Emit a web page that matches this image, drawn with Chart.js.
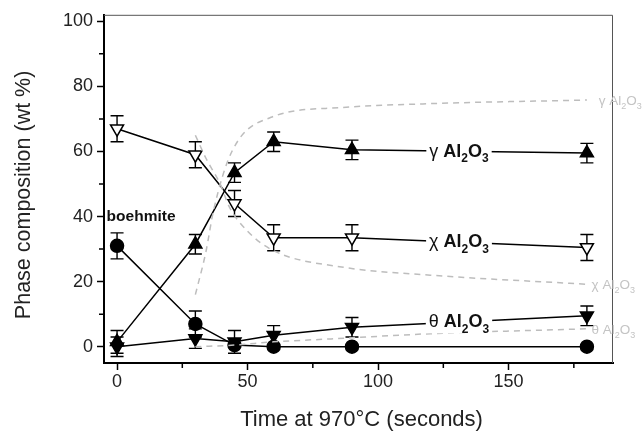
<!DOCTYPE html>
<html>
<head>
<meta charset="utf-8">
<script src="https://cdn.jsdelivr.net/npm/chart.js@4.4.0/dist/chart.umd.min.js"></script>
<style>
html, body { margin: 0; padding: 0; background: #fff; }
</style>
</head>
<body>
<canvas id="chart" width="642" height="433"></canvas>
<script>
// measured phases (wt %)
const times = [0, 30, 45, 60, 90, 180];
const gammaVals = [1.5, 31.5, 53.5, 63, 60.5, 59.5];
const gammaErr = [3.5, 3, 3, 3, 3, 3];
const chiVals = [67, 59, 44, 33.5, 33.5, 30.5];
const chiErr = [4, 4, 4, 4, 4, 4];
const thetaVals = [0, 2.5, 1.5, 3.5, 6, 9.5];
const thetaErr = [3, 3, 3.5, 3, 3, 3];
const boehmiteVals = [31, 7, 0.5, 0, 0, 0];
const boehmiteErr = [4, 4, 0, 0, 0, 0];

// model curves (gray dashed)
const gammaModelX = [30, 34, 37, 44, 59, 86, 120, 180];
const gammaModelY = [16, 29, 42, 60, 70.5, 73.5, 74.7, 75.8];
const chiModelX = [30, 34, 39.5, 43, 50, 60, 86, 120, 180];
const chiModelY = [65, 58, 50, 43, 35.5, 29.5, 24.5, 22, 19.2];
const thetaModelX = [30, 45, 60, 82, 120, 180];
const thetaModelY = [0, 0.5, 1.5, 2.4, 4, 5.5];

// ticks
const xTicks = [0, 50, 100, 150];
const xMinorTicks = [25, 75, 125, 175];
const yTicks = [0, 20, 40, 60, 80, 100];
const yMinorTicks = [10, 30, 50, 70, 90];

const FONT = "'Liberation Sans', Arial, Helvetica, sans-serif";
const GRAY = '#bdbdbd';

const pts = (xs, ys) => xs.map((x, i) => ({ x: x, y: ys[i] }));

function markerSet(vals, style, rot, fill) {
    return {
        data: pts(times, vals),
        borderColor: '#000',
        borderWidth: 1.5,
        backgroundColor: fill,
        pointStyle: style,
        rotation: rot,
        pointRadius: style === 'circle' ? 6.5 : 7.5,
        pointBorderWidth: 1.5,
        pointBackgroundColor: fill,
        pointBorderColor: '#000',
        tension: 0,
        fill: false
    };
}

function modelSet(xs, ys) {
    return {
        data: pts(xs, ys),
        borderColor: GRAY,
        borderWidth: 1.5,
        borderDash: [6, 5],
        pointRadius: 0,
        cubicInterpolationMode: 'monotone',
        fill: false
    };
}

const errorSets = [
    { vals: gammaVals, err: gammaErr },
    { vals: chiVals, err: chiErr },
    { vals: thetaVals, err: thetaErr },
    { vals: boehmiteVals, err: boehmiteErr }
];

// annotation text (data coordinates)
const lineLabels = [
    { greek: 'γ', x: 131, y: 60.3 },
    { greek: 'χ', x: 131, y: 32.5 },
    { greek: 'θ', x: 131, y: 8 }
];
const modelLabels = [
    { greek: 'γ', x: 184.5, y: 75.8 },
    { greek: 'χ', x: 181.8, y: 19.3 },
    { greek: 'θ', x: 181.8, y: 5.5 }
];

// draws "g Al2O3" with subscripts
function drawFormula(ctx, greek, px, py, size, color, bold, centered, bg) {
    const w = bold ? 'bold ' : '';
    const sub = Math.round(size * 0.65);
    const parts = [
        { t: greek + ' ', f: size + 'px ' + FONT, dy: 0 },
        { t: 'Al', f: w + size + 'px ' + FONT, dy: 0 },
        { t: '2', f: w + sub + 'px ' + FONT, dy: size * 0.3 },
        { t: 'O', f: w + size + 'px ' + FONT, dy: 0 },
        { t: '3', f: w + sub + 'px ' + FONT, dy: size * 0.3 }
    ];
    let total = 0;
    parts.forEach(p => { ctx.font = p.f; p.w = ctx.measureText(p.t).width; total += p.w; });
    let x = centered ? px - total / 2 : px;
    const base = py + size * 0.36;
    if (bg) {
        ctx.fillStyle = '#fff';
        ctx.fillRect(x - 3, py - size * 0.6, total + 6, size * 1.3);
    }
    ctx.fillStyle = color;
    ctx.textBaseline = 'alphabetic';
    ctx.textAlign = 'left';
    parts.forEach(p => {
        ctx.font = p.f;
        ctx.fillText(p.t, x, base + p.dy);
        x += p.w;
    });
}

const extras = {
    id: 'extras',
    beforeDatasetsDraw(chart) {
        const { ctx, chartArea: a, scales: { x, y } } = chart;
        ctx.save();
        // thin frame top / right
        ctx.strokeStyle = '#555';
        ctx.lineWidth = 1;
        ctx.beginPath();
        ctx.moveTo(a.left, a.top + 0.5);
        ctx.lineTo(a.right - 0.5, a.top + 0.5);
        ctx.lineTo(a.right - 0.5, a.bottom);
        ctx.stroke();
        // minor ticks
        ctx.strokeStyle = '#000';
        ctx.lineWidth = 1.5;
        ctx.beginPath();
        xMinorTicks.forEach(v => {
            const px = x.getPixelForValue(v);
            ctx.moveTo(px, a.bottom);
            ctx.lineTo(px, a.bottom + 5);
        });
        yMinorTicks.forEach(v => {
            const py = y.getPixelForValue(v);
            ctx.moveTo(a.left, py);
            ctx.lineTo(a.left - 5, py);
        });
        ctx.stroke();
        // error bars
        ctx.lineWidth = 1.4;
        ctx.beginPath();
        errorSets.forEach(s => {
            s.vals.forEach((v, i) => {
                const e = s.err[i];
                if (!e) return;
                const px = x.getPixelForValue(times[i]);
                const t = y.getPixelForValue(v + e);
                const b = y.getPixelForValue(v - e);
                ctx.moveTo(px, t); ctx.lineTo(px, b);
                ctx.moveTo(px - 6.5, t); ctx.lineTo(px + 6.5, t);
                ctx.moveTo(px - 6.5, b); ctx.lineTo(px + 6.5, b);
            });
        });
        ctx.stroke();
        ctx.restore();
    },
    afterDatasetsDraw(chart) {
        const { ctx, scales: { x, y } } = chart;
        ctx.save();
        lineLabels.forEach(l => {
            drawFormula(ctx, l.greek, x.getPixelForValue(l.x), y.getPixelForValue(l.y), 18, '#111', true, true, true);
        });
        modelLabels.forEach(l => {
            drawFormula(ctx, l.greek, x.getPixelForValue(l.x), y.getPixelForValue(l.y), 13.5, '#c4c4c4', false, false, false);
        });
        ctx.font = 'bold 15.5px ' + FONT;
        ctx.fillStyle = '#111';
        ctx.textAlign = 'left';
        ctx.textBaseline = 'middle';
        ctx.fillText('boehmite', x.getPixelForValue(-4), y.getPixelForValue(40));
        ctx.restore();
    }
};

new Chart(document.getElementById('chart'), {
    type: 'line',
    data: {
        datasets: [
            modelSet(gammaModelX, gammaModelY),
            modelSet(chiModelX, chiModelY),
            modelSet(thetaModelX, thetaModelY),
            markerSet(gammaVals, 'triangle', 0, '#000'),
            markerSet(chiVals, 'triangle', 180, '#fff'),
            markerSet(thetaVals, 'triangle', 180, '#000'),
            markerSet(boehmiteVals, 'circle', 0, '#000')
        ]
    },
    options: {
        responsive: false,
        animation: false,
        layout: { padding: { top: 12, right: 29, left: 0, bottom: 0 } },
        plugins: { legend: { display: false }, tooltip: { enabled: false } },
        scales: {
            x: {
                type: 'linear',
                min: -5,
                max: 190,
                afterBuildTicks: axis => { axis.ticks = xTicks.map(v => ({ value: v })); },
                afterFit: axis => { axis.height = 70; },
                grid: { drawOnChartArea: false, tickLength: 7, tickWidth: 1.5, tickColor: '#000' },
                border: { color: '#000', width: 2 },
                ticks: { color: '#222', padding: 1, font: { family: FONT, size: 18 } },
                title: {
                    display: true,
                    text: ' Time at 970°C (seconds)',
                    color: '#222',
                    padding: { top: 0, bottom: 0 },
                    font: { family: FONT, size: 22 }
                }
            },
            y: {
                type: 'linear',
                min: -5,
                max: 102,
                afterBuildTicks: axis => { axis.ticks = yTicks.map(v => ({ value: v })); },
                afterFit: axis => { axis.width = 104; },
                grid: { drawOnChartArea: false, tickLength: 7, tickWidth: 1.5, tickColor: '#000' },
                border: { color: '#000', width: 2 },
                ticks: { color: '#222', padding: 4, font: { family: FONT, size: 18 } },
                title: {
                    display: true,
                    text: 'Phase composition (wt %)  ',
                    color: '#222',
                    padding: { top: 11, bottom: 0 },
                    font: { family: FONT, size: 21.5 }
                }
            }
        }
    },
    plugins: [extras]
});
</script>
</body>
</html>
